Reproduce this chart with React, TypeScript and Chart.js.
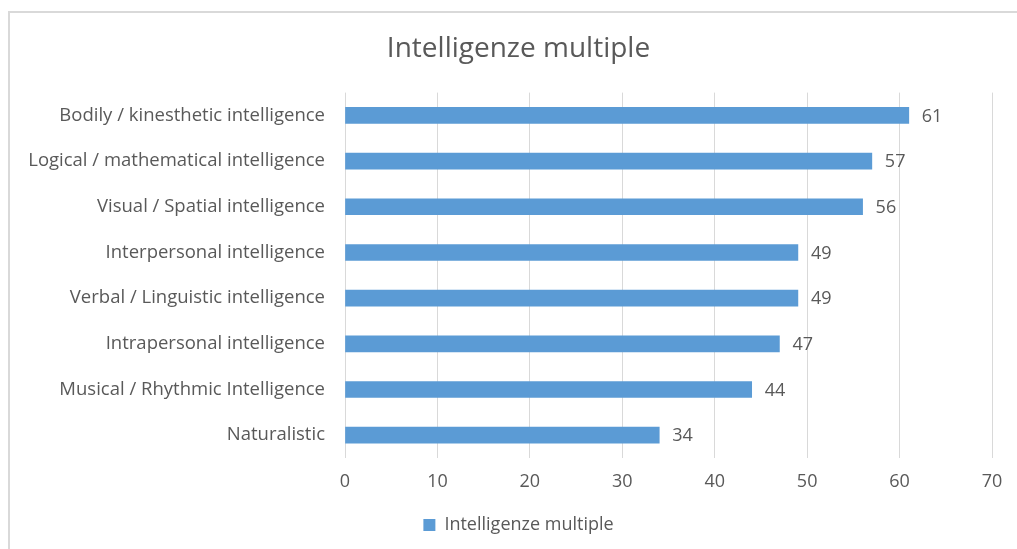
import React, { useEffect, useRef } from "react";
import { Chart, registerables } from "chart.js";

Chart.register(...registerables);

const categories = [
  "Bodily / kinesthetic intelligence",
  "Logical / mathematical intelligence",
  "Visual / Spatial intelligence",
  "Interpersonal intelligence",
  "Verbal / Linguistic intelligence",
  "Intrapersonal intelligence",
  "Musical / Rhythmic Intelligence",
  "Naturalistic",
];
const values = [61, 57, 56, 49, 49, 47, 44, 34];
const seriesName = "Intelligenze multiple";
const chartTitle = "Intelligenze multiple";

const FONT = "'Open Sans', sans-serif";
const TEXT = "#595959";
const BAR = "#5b9bd5";
const LEFT_PAD = 20;
const AXIS_X = 345;
const RIGHT_GAP = 25;

const valueLabels = {
  id: "valueLabels",
  afterDatasetsDraw(chart: any) {
    const ctx = chart.ctx;
    const meta = chart.getDatasetMeta(0);
    ctx.save();
    ctx.font = `18px ${FONT}`;
    ctx.fillStyle = TEXT;
    ctx.textAlign = "left";
    ctx.textBaseline = "middle";
    meta.data.forEach((bar: any, i: number) => {
      ctx.fillText(String(values[i]), bar.x + 13, bar.y + 1);
    });
    ctx.restore();
  },
};

export default function App() {
  const ref = useRef<HTMLCanvasElement | null>(null);
  useEffect(() => {
    if (!ref.current) return;
    const chart = new Chart(ref.current, {
      type: "bar",
      data: {
        labels: categories,
        datasets: [
          {
            label: seriesName,
            data: values,
            backgroundColor: BAR,
            borderWidth: 0,
            barThickness: 16,
          },
        ],
      },
      options: {
        indexAxis: "y",
        animation: false,
        responsive: false,
        maintainAspectRatio: false,
        layout: { padding: { top: 19, left: LEFT_PAD, right: 0, bottom: 5 } },
        plugins: {
          title: {
            display: true,
            text: chartTitle,
            color: TEXT,
            font: { family: FONT, size: 28, weight: "normal" },
            padding: { top: 13, bottom: 27 },
          },
          legend: {
            display: true,
            position: "bottom",
            labels: {
              color: TEXT,
              font: { family: FONT, size: 18 },
              boxWidth: 12,
              boxHeight: 12,
              padding: 10,
            },
          },
          tooltip: { enabled: false },
        },
        scales: {
          x: {
            min: 0,
            max: 70,
            ticks: {
              stepSize: 10,
              color: TEXT,
              font: { family: FONT, size: 18 },
              padding: 13,
            },
            grid: { color: "#d9d9d9", lineWidth: 1, drawTicks: false },
            border: { display: false },
            afterFit: (s: any) => {
              s.height = 48;
            },
          },
          y: {
            ticks: {
              color: TEXT,
              font: { family: FONT, size: 18.5 },
              padding: 12,
              autoSkip: false,
            },
            grid: { display: false },
            border: { display: false },
            afterFit: (s: any) => {
              s.width = AXIS_X - LEFT_PAD;
            },
          },
          yRight: {
            type: "category",
            position: "right",
            labels: categories,
            ticks: { display: false },
            grid: { display: false },
            border: { display: false },
            afterFit: (s: any) => {
              s.width = RIGHT_GAP;
            },
          },
        },
      },
      plugins: [valueLabels],
    });
    return () => chart.destroy();
  }, []);

  return (
    <div
      style={{
        position: "fixed",
        left: 0,
        top: 0,
        width: 1017,
        height: 549,
        overflow: "hidden",
        background: "#fff",
      }}
    >
      <div
        style={{
          position: "absolute",
          left: 8,
          top: 11,
          width: 1100,
          height: 600,
          borderLeft: "2px solid #d9d9d9",
          borderTop: "2px solid #d9d9d9",
        }}
      />
      <canvas
        ref={ref}
        width={1017}
        height={549}
        style={{ position: "absolute", left: 0, top: 0 }}
      />
    </div>
  );
}
